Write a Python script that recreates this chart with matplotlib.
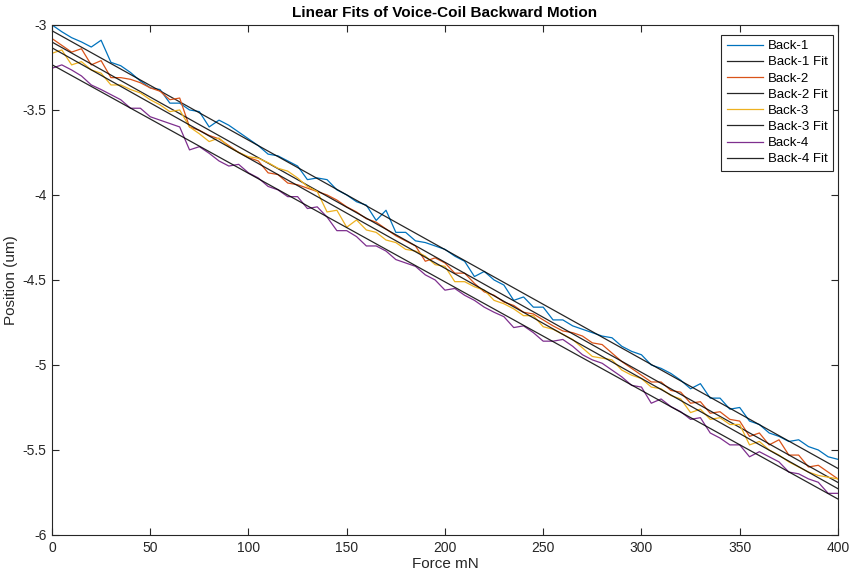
import numpy as np
import matplotlib
matplotlib.use("Agg")
import matplotlib.pyplot as plt

# Force axis (mN), sampled every 5 mN
force = list(range(0, 401, 5))

back_1 = [
    -3.00, -3.04, -3.075, -3.10, -3.13, -3.09, -3.22, -3.24, -3.28, -3.33,
    -3.37, -3.38, -3.46, -3.46, -3.50, -3.51, -3.60, -3.56, -3.59, -3.63,
    -3.67, -3.71, -3.76, -3.77, -3.80, -3.83, -3.91, -3.90, -3.91, -3.97,
    -4.00, -4.04, -4.06, -4.15, -4.09, -4.22, -4.22, -4.27, -4.28, -4.30,
    -4.32, -4.36, -4.39, -4.48, -4.45, -4.50, -4.53, -4.62, -4.60, -4.66,
    -4.66, -4.735, -4.735, -4.77, -4.79, -4.81, -4.83, -4.84, -4.89, -4.92,
    -4.94, -5.00, -5.02, -5.05, -5.09, -5.14, -5.11, -5.195, -5.195, -5.26,
    -5.25, -5.33, -5.35, -5.40, -5.42, -5.45, -5.44, -5.48, -5.50, -5.54,
    -5.555,
]

back_2 = [
    -3.08, -3.12, -3.16, -3.14, -3.235, -3.21, -3.31, -3.31, -3.32, -3.34,
    -3.37, -3.39, -3.44, -3.43, -3.60, -3.62, -3.65, -3.67, -3.71, -3.75,
    -3.78, -3.80, -3.87, -3.88, -3.93, -3.94, -3.96, -3.98, -4.00, -4.03,
    -4.07, -4.10, -4.14, -4.16, -4.20, -4.24, -4.27, -4.30, -4.39, -4.37,
    -4.40, -4.46, -4.46, -4.52, -4.57, -4.59, -4.63, -4.65, -4.69, -4.70,
    -4.735, -4.77, -4.80, -4.81, -4.83, -4.87, -4.88, -4.93, -4.98, -5.02,
    -5.06, -5.10, -5.10, -5.15, -5.16, -5.225, -5.216, -5.284, -5.275, -5.32,
    -5.33, -5.42, -5.40, -5.47, -5.44, -5.53, -5.53, -5.60, -5.59, -5.63,
    -5.67,
]

back_3 = [
    -3.167, -3.147, -3.235, -3.216, -3.265, -3.284, -3.353, -3.353, -3.38, -3.40,
    -3.44, -3.47, -3.51, -3.50, -3.60, -3.64, -3.686, -3.665, -3.716, -3.75,
    -3.775, -3.784, -3.81, -3.843, -3.86, -3.90, -3.95, -3.98, -4.10, -4.09,
    -4.19, -4.147, -4.206, -4.22, -4.265, -4.28, -4.32, -4.33, -4.36, -4.41,
    -4.42, -4.51, -4.51, -4.54, -4.56, -4.62, -4.64, -4.67, -4.71, -4.71,
    -4.775, -4.79, -4.82, -4.85, -4.90, -4.95, -4.96, -4.97, -5.03, -5.06,
    -5.08, -5.13, -5.14, -5.18, -5.20, -5.28, -5.26, -5.32, -5.31, -5.35,
    -5.35, -5.47, -5.45, -5.50, -5.53, -5.57, -5.60, -5.63, -5.65, -5.66,
    -5.67,
]

back_4 = [
    -3.255, -3.235, -3.265, -3.30, -3.353, -3.38, -3.41, -3.44, -3.49, -3.49,
    -3.54, -3.56, -3.58, -3.60, -3.735, -3.716, -3.755, -3.80, -3.83, -3.82,
    -3.87, -3.90, -3.95, -3.97, -4.01, -4.01, -4.08, -4.07, -4.13, -4.21,
    -4.21, -4.245, -4.30, -4.30, -4.33, -4.38, -4.40, -4.42, -4.47, -4.50,
    -4.56, -4.55, -4.59, -4.62, -4.66, -4.69, -4.716, -4.78, -4.77, -4.81,
    -4.86, -4.86, -4.85, -4.89, -4.94, -4.97, -4.99, -5.03, -5.07, -5.12,
    -5.13, -5.225, -5.20, -5.245, -5.275, -5.32, -5.31, -5.40, -5.43, -5.47,
    -5.47, -5.54, -5.51, -5.54, -5.57, -5.63, -5.64, -5.67, -5.69, -5.755,
    -5.755,
]

series_names = ["Back-1", "Back-2", "Back-3", "Back-4"]
series_colors = ["#0072BD", "#D95319", "#EDB120", "#7E2F8E"]

plt.rcParams["font.family"] = ["Liberation Sans", "DejaVu Sans"]

fig = plt.figure(figsize=(8.52, 5.77), dpi=100)
ax = fig.add_axes([0.061, 0.0728, 0.9225, 0.884])

x = np.array(force, dtype=float)
for name, col, y in zip(series_names, series_colors, [back_1, back_2, back_3, back_4]):
    y = np.array(y)
    ax.plot(x, y, color=col, lw=0.9, label=name)
    # linear fit, as in the original analysis
    p = np.polyfit(x, y, 1)
    ax.plot(x, np.polyval(p, x), color="k", lw=0.9, alpha=0.85, label=name + " Fit")

ax.set_xlim(0, 400)
ax.set_ylim(-6, -3)
ax.set_xticks(np.arange(0, 401, 50))
ax.set_yticks(np.arange(-6, -2.9, 0.5))
ax.set_yticklabels(["-6", "-5.5", "-5", "-4.5", "-4", "-3.5", "-3"])

axis_col = "#262626"
for s in ax.spines.values():
    s.set_color(axis_col)
    s.set_linewidth(0.8)
ax.tick_params(direction="in", top=True, right=True, length=5, width=0.8,
               colors=axis_col, labelsize=10, pad=4)

ax.set_xlabel("Force mN", fontsize=11, color=axis_col, labelpad=2)
ax.set_ylabel("Position (um)", fontsize=11, color=axis_col, labelpad=3)
ax.set_title("Linear Fits of Voice-Coil Backward Motion", fontsize=11,
             fontweight="bold", color="#000000", pad=6)

leg = ax.legend(loc="upper right", bbox_to_anchor=(0.978, 0.94),
                bbox_transform=fig.transFigure, borderaxespad=0,
                fontsize=9.5, fancybox=False, framealpha=1,
                edgecolor="#262626", handlelength=2.8, handletextpad=0.35,
                borderpad=0.4, labelspacing=0.3)
leg.get_frame().set_linewidth(0.8)

fig.savefig("out.png", dpi=100)
